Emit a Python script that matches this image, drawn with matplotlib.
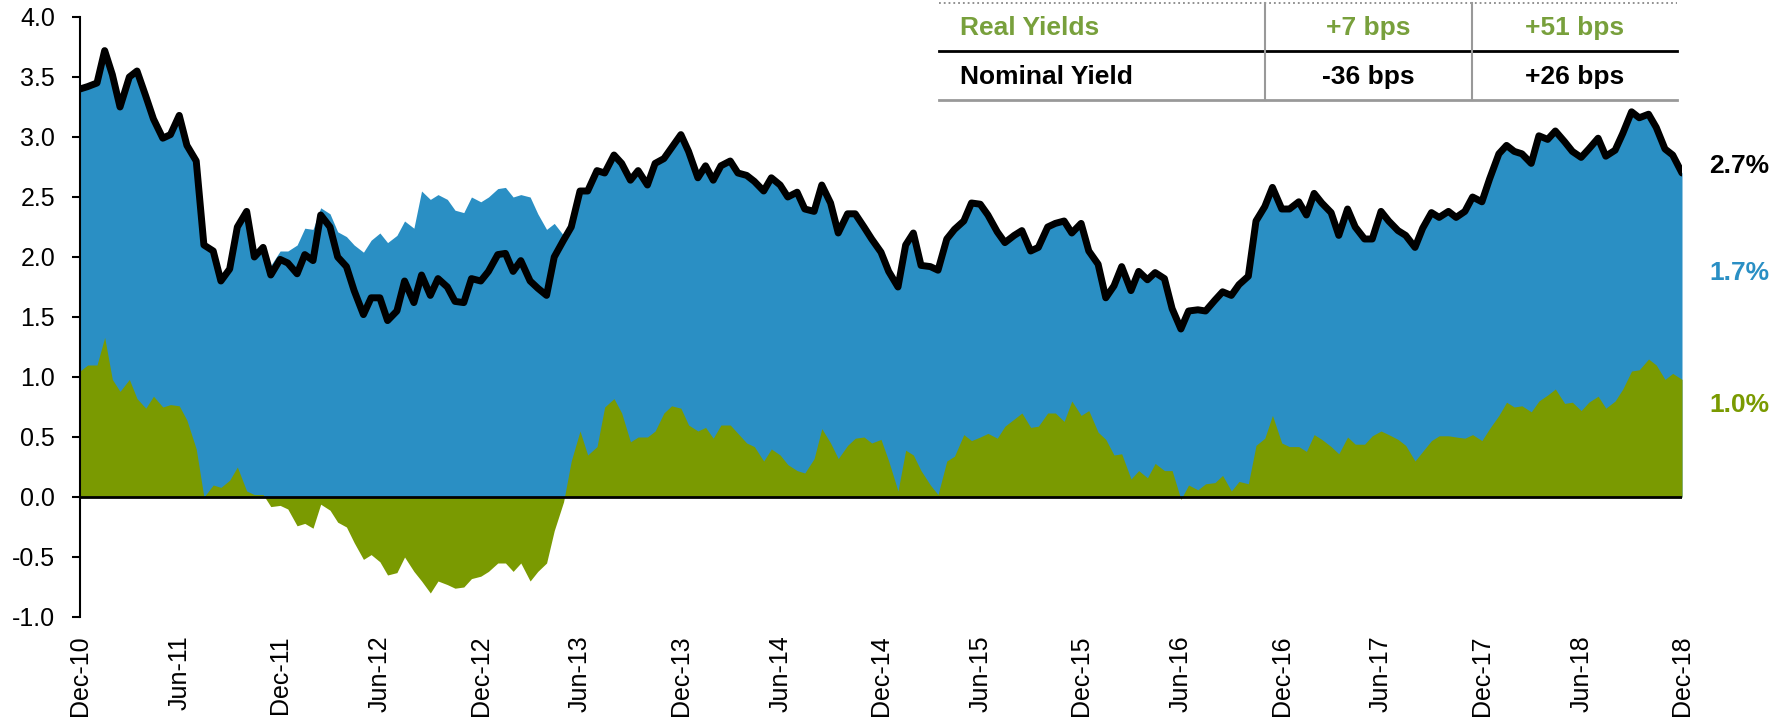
import matplotlib.pyplot as plt
import matplotlib.dates as mdates
from matplotlib.lines import Line2D
import numpy as np
import pandas as pd

plt.rcParams['font.family'] = ['Liberation Sans', 'DejaVu Sans']

# semi-monthly observations, Dec-10 .. Dec-18
dates = pd.date_range('2011-01-01', periods=193, freq='SMS') - pd.Timedelta(days=1)

nominal = [
    3.40, 3.42, 3.45, 3.72, 3.52, 3.25, 3.50, 3.55, 3.34, 3.15,
    2.99, 3.02, 3.18, 2.93, 2.80, 2.10, 2.05, 1.80, 1.90, 2.25,
    2.38, 2.00, 2.08, 1.85, 1.98, 1.95, 1.86, 2.02, 1.97, 2.35,
    2.25, 2.00, 1.92, 1.72, 1.52, 1.66, 1.66, 1.47, 1.55, 1.80,
    1.62, 1.85, 1.68, 1.82, 1.75, 1.63, 1.62, 1.82, 1.80, 1.88,
    2.02, 2.03, 1.88, 1.97, 1.80, 1.74, 1.68, 2.00, 2.14, 2.25,
    2.55, 2.55, 2.72, 2.70, 2.85, 2.78, 2.64, 2.72, 2.60, 2.78,
    2.82, 2.91, 3.02, 2.88, 2.66, 2.76, 2.64, 2.76, 2.80, 2.70,
    2.68, 2.63, 2.55, 2.66, 2.60, 2.50, 2.54, 2.40, 2.38, 2.60,
    2.45, 2.20, 2.36, 2.36, 2.25, 2.15, 2.04, 1.88, 1.75, 2.10,
    2.20, 1.93, 1.92, 1.89, 2.15, 2.23, 2.30, 2.45, 2.44, 2.35,
    2.21, 2.12, 2.18, 2.22, 2.05, 2.08, 2.25, 2.28, 2.30, 2.20,
    2.28, 2.05, 1.94, 1.66, 1.76, 1.92, 1.72, 1.88, 1.81, 1.87,
    1.82, 1.57, 1.40, 1.55, 1.56, 1.55, 1.64, 1.71, 1.68, 1.77,
    1.84, 2.30, 2.42, 2.58, 2.40, 2.40, 2.46, 2.35, 2.53, 2.45,
    2.37, 2.18, 2.40, 2.25, 2.15, 2.15, 2.38, 2.30, 2.22, 2.18,
    2.08, 2.24, 2.37, 2.33, 2.38, 2.33, 2.38, 2.50, 2.46, 2.65,
    2.86, 2.93, 2.88, 2.86, 2.78, 3.01, 2.98, 3.05, 2.96, 2.88,
    2.83, 2.90, 2.99, 2.84, 2.89, 3.03, 3.21, 3.16, 3.19, 3.08,
    2.90, 2.85, 2.70,
]

real = [
    1.05, 1.10, 1.10, 1.33, 0.98, 0.88, 0.98, 0.82, 0.74, 0.84,
    0.75, 0.77, 0.76, 0.64, 0.40, 0.00, 0.10, 0.08, 0.14, 0.25,
    0.05, 0.02, 0.02, -0.08, -0.07, -0.10, -0.24, -0.22, -0.26, -0.06,
    -0.11, -0.21, -0.25, -0.38, -0.52, -0.48, -0.54, -0.65, -0.63, -0.50,
    -0.62, -0.70, -0.80, -0.70, -0.73, -0.76, -0.75, -0.68, -0.66, -0.62,
    -0.55, -0.55, -0.62, -0.55, -0.70, -0.62, -0.55, -0.28, -0.04, 0.30,
    0.55, 0.35, 0.42, 0.75, 0.82, 0.70, 0.46, 0.50, 0.50, 0.55,
    0.70, 0.76, 0.74, 0.60, 0.55, 0.58, 0.49, 0.60, 0.60, 0.53,
    0.45, 0.42, 0.30, 0.40, 0.35, 0.27, 0.22, 0.20, 0.32, 0.57,
    0.45, 0.32, 0.43, 0.49, 0.50, 0.45, 0.48, 0.30, 0.05, 0.39,
    0.35, 0.22, 0.10, 0.02, 0.30, 0.34, 0.52, 0.47, 0.50, 0.53,
    0.49, 0.59, 0.65, 0.70, 0.58, 0.59, 0.70, 0.70, 0.63, 0.80,
    0.68, 0.72, 0.54, 0.48, 0.35, 0.36, 0.15, 0.22, 0.16, 0.28,
    0.22, 0.22, -0.02, 0.10, 0.06, 0.11, 0.12, 0.18, 0.05, 0.13,
    0.11, 0.43, 0.49, 0.68, 0.45, 0.42, 0.42, 0.38, 0.52, 0.48,
    0.42, 0.36, 0.50, 0.44, 0.44, 0.51, 0.55, 0.52, 0.48, 0.43,
    0.30, 0.38, 0.47, 0.51, 0.51, 0.50, 0.49, 0.52, 0.47, 0.57,
    0.68, 0.79, 0.75, 0.76, 0.71, 0.80, 0.85, 0.90, 0.78, 0.79,
    0.72, 0.79, 0.84, 0.74, 0.80, 0.90, 1.05, 1.06, 1.15, 1.10,
    0.98, 1.03, 0.98,
]

table_rows = ["Real Yields", "Nominal Yield"]
table_col1 = ["+7 bps", "-36 bps"]
table_col2 = ["+51 bps", "+26 bps"]

BLUE = '#2A8FC4'
GREEN = '#7A9A01'
TXT_GREEN = '#78A03C'

nom = np.array(nominal)
rl = np.array(real)
breakeven = nom - rl
blue_top = np.maximum(rl, 0) + breakeven

W, H = 1785, 719
fig = plt.figure(figsize=(W / 100, H / 100), dpi=100)
ax = fig.add_axes([80 / W, 102 / H, 1602 / W, 600 / H])

ax.fill_between(dates, 0, blue_top, color=BLUE, lw=0)
ax.fill_between(dates, 0, rl, color=GREEN, lw=0)
ax.axhline(0, color='black', lw=2)
ax.plot(dates, nom, color='black', lw=5, solid_joinstyle='round',
        solid_capstyle='round')

ax.set_xlim(dates[0], dates[-1])
ax.set_ylim(-1, 4)
ax.set_yticks(np.arange(-1, 4.01, 0.5))
ax.yaxis.set_major_formatter(plt.FormatStrFormatter('%.1f'))
ax.set_xticks(dates[::12])
ax.xaxis.set_major_formatter(mdates.DateFormatter('%b-%y'))
ax.tick_params(axis='x', length=0, pad=13, labelsize=18, labelrotation=90)
ax.tick_params(axis='y', length=6, width=1.5, pad=12, labelsize=18)
for s in ['top', 'right', 'bottom']:
    ax.spines[s].set_visible(False)
ax.spines['left'].set_linewidth(1.5)

# end-of-series labels
trans = ax.get_yaxis_transform()
ax.text(1.017, 2.76, f"{nom[-1]:.1f}%", transform=trans, ha='left', va='center',
        fontsize=19, fontweight='bold', color='black')
ax.text(1.017, 1.87, f"{breakeven[-1]:.1f}%", transform=trans, ha='left', va='center',
        fontsize=19, fontweight='bold', color=BLUE)
ax.text(1.017, 0.77, f"{rl[-1]:.1f}%", transform=trans, ha='left', va='center',
        fontsize=19, fontweight='bold', color=GREEN)


# small table in the top right corner
def fx(x):
    return x / W


def fy(y):
    return 1 - y / H


fig.add_artist(Line2D([fx(939), fx(1677)], [fy(3)] * 2, ls=':', color='#888888', lw=1.3))
fig.add_artist(Line2D([fx(939), fx(1677)], [fy(51)] * 2, color='black', lw=2))
fig.add_artist(Line2D([fx(939), fx(1677)], [fy(100)] * 2, color='#999999', lw=2))
for xv in [1265, 1472]:
    fig.add_artist(Line2D([fx(xv)] * 2, [fy(3), fy(100)], color='#999999', lw=1.5))

row_y = [28, 77]
row_c = [TXT_GREEN, 'black']
for i in range(len(table_rows)):
    fig.text(fx(960), fy(row_y[i]), table_rows[i], ha='left', va='center',
             fontsize=19, fontweight='bold', color=row_c[i])
    fig.text(fx(1368), fy(row_y[i]), table_col1[i], ha='center', va='center',
             fontsize=19, fontweight='bold', color=row_c[i])
    fig.text(fx(1575), fy(row_y[i]), table_col2[i], ha='center', va='center',
             fontsize=19, fontweight='bold', color=row_c[i])

fig.savefig('out.png', dpi=100)
